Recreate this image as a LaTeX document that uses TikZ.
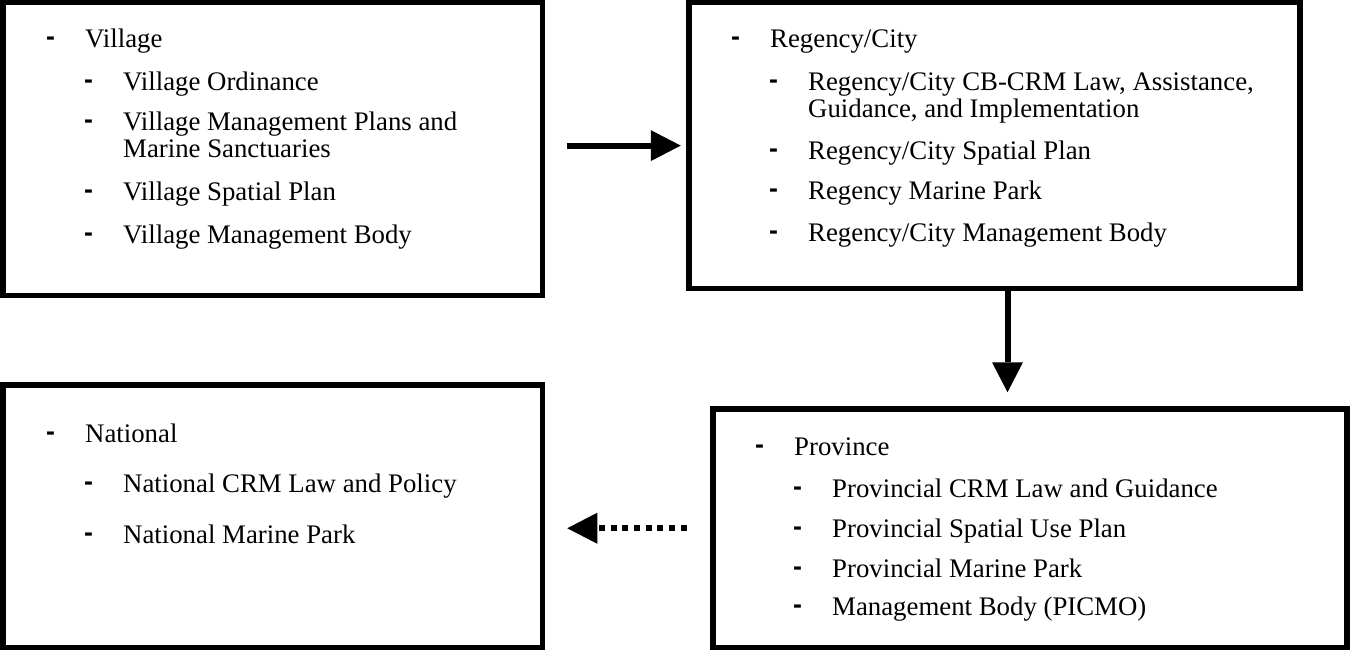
\documentclass[tikz,border=0pt]{standalone}
\usepackage{fontspec}
\setmainfont{Liberation Serif}
\newfontfamily\dashfont{Liberation Sans}
\usepackage{tikz}
\usetikzlibrary{arrows.meta}

\newcommand{\dsh}{\makebox[38pt][l]{\hspace{-1pt}\raisebox{2pt}{\dashfont\bfseries -}}}

\begin{document}
\begin{tikzpicture}[x=1pt,y=-1pt,
  panel/.style={draw, line width=5.5pt, inner sep=0pt},
  items/.style={anchor=base west, inner sep=0pt, font=\fontsize{26.8}{27}\selectfont},
  arr/.style={line width=6pt, -{Triangle[length=30pt,width=31pt,line width=0pt]}}]
\useasboundingbox (0,0) rectangle (1350,651);

\node[panel, minimum width=539.5pt, minimum height=292.75pt] (village)  at (272.75,149.1) {};
\node[panel, minimum width=611pt,   minimum height=285.75pt] (regency)  at (994.5,145.6)  {};
\node[panel, minimum width=634pt,   minimum height=238.5pt]  (province) at (1030,528.25)  {};
\node[panel, minimum width=539.5pt, minimum height=262.5pt]  (national) at (272.75,516.25) {};

\node[items] (villagetext) at (47,47) {\begin{tabular}[t]{@{}l@{}l@{}l@{}}
\dsh & \multicolumn{2}{@{}l@{}}{Village}\\[16pt]
 & \dsh & Village Ordinance\\[13pt]
 & \dsh & Village Management Plans and\\
 &      & Marine Sanctuaries\\[16pt]
 & \dsh & Village Spatial Plan\\[16pt]
 & \dsh & Village Management Body
\end{tabular}};

\node[items] (regencytext) at (732,47) {\begin{tabular}[t]{@{}l@{}l@{}l@{}}
\dsh & \multicolumn{2}{@{}l@{}}{Regency/City}\\[16pt]
 & \dsh & Regency/City CB-CRM Law, Assistance,\\
 &      & Guidance, and Implementation\\[15pt]
 & \dsh & Regency/City Spatial Plan\\[13pt]
 & \dsh & Regency Marine Park\\[15pt]
 & \dsh & Regency/City Management Body
\end{tabular}};

\node[items] (provincetext) at (756,455) {\begin{tabular}[t]{@{}l@{}l@{}l@{}}
\dsh & \multicolumn{2}{@{}l@{}}{Province}\\[15pt]
 & \dsh & Provincial CRM Law and Guidance\\[13pt]
 & \dsh & Provincial Spatial Use Plan\\[13pt]
 & \dsh & Provincial Marine Park\\[11pt]
 & \dsh & Management Body (PICMO)
\end{tabular}};

\node[items] (nationaltext) at (47,442) {\begin{tabular}[t]{@{}l@{}l@{}l@{}}
\dsh & \multicolumn{2}{@{}l@{}}{National}\\[23pt]
 & \dsh & National CRM Law and Policy\\[24pt]
 & \dsh & National Marine Park
\end{tabular}};

% flow between levels
\draw[arr, shorten <=21.5pt, shorten >=5.5pt] (village.east |- regency.west) -- (regency.west);
\draw[arr, shorten >=14pt] ([xshift=13pt]regency.south) -- ([xshift=13pt]regency.south |- province.north);
\draw[arr, dash pattern=on 6pt off 5.7pt, shorten <=23.5pt, shorten >=22pt] (province.west) -- (province.west -| national.east);
\end{tikzpicture}
\end{document}
